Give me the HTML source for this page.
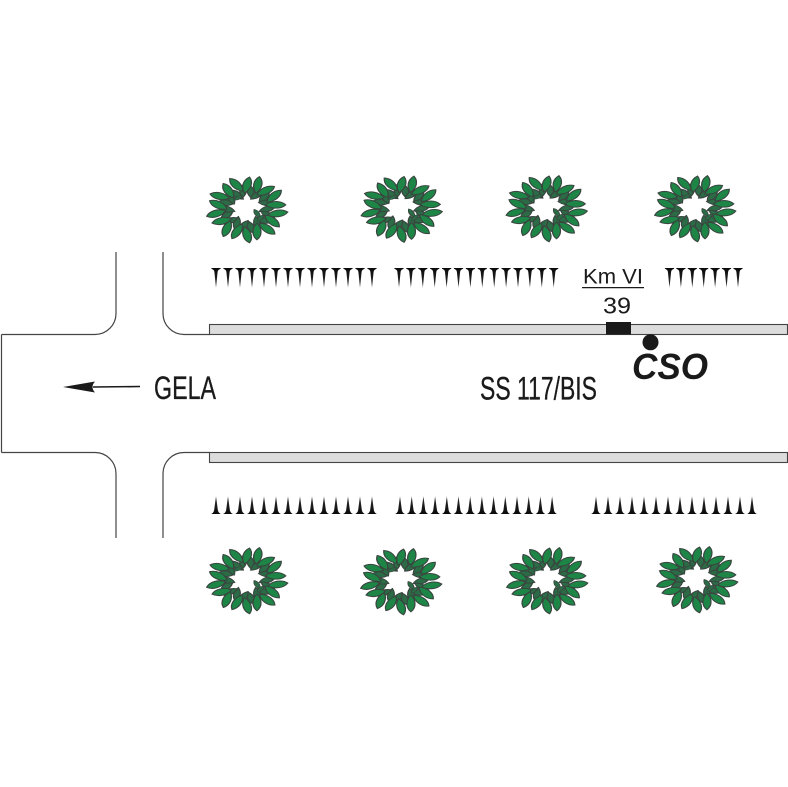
<!DOCTYPE html>
<html><head><meta charset="utf-8">
<style>
html,body{margin:0;padding:0;background:#fff;}
svg{display:block;}
text{font-family:"Liberation Sans",Arial,sans-serif;fill:#1a1a1a;}
</style></head>
<body>
<svg width="788" height="787" viewBox="0 0 788 787" xmlns="http://www.w3.org/2000/svg">
<defs>
  <linearGradient id="gt" x1="0" y1="0" x2="0" y2="1">
    <stop offset="0" stop-color="#0a0a0a"/>
    <stop offset="0.8" stop-color="#2a2a2a"/>
    <stop offset="1" stop-color="#888"/>
  </linearGradient>
  <linearGradient id="gb" x1="0" y1="1" x2="0" y2="0">
    <stop offset="0" stop-color="#0a0a0a"/>
    <stop offset="0.8" stop-color="#2a2a2a"/>
    <stop offset="1" stop-color="#888"/>
  </linearGradient>
  <path id="st" d="M-4.6,0 L4.6,0 L4.6,0.8 Q1.8,1.8 1.6,4 L0,20 L-1.6,4 Q-1.8,1.8 -4.6,0.8 Z" fill="url(#gt)"/>
  <path id="sb" d="M-4.8,0 L4.8,0 Q1.9,-1.2 1.7,-5 L0,-18 L-1.7,-5 Q-1.9,-1.2 -4.8,0 Z" fill="url(#gb)"/>
  <path id="lf" d="M0,-9 C4.8,-4.5 4.8,3.5 0,9 C-4.8,3.5 -4.8,-4.5 0,-9Z" fill="#1d8646" stroke="#3a4540" stroke-width="1.1"/>
  <path id="ld" d="M0,-7.5 C4,-3.5 4,2.5 0,7.5 C-4,2.5 -4,-3.5 0,-7.5Z" fill="#2b6b45" stroke="#3a4540" stroke-width="1.1"/>
  <g id="tree">
    <g transform="scale(1.12,0.92)">
      <use href="#ld" transform="rotate(10) translate(0,-19) rotate(-20)"/>
      <use href="#ld" transform="rotate(30) translate(0,-18) rotate(20)"/>
      <use href="#ld" transform="rotate(50) translate(0,-20) rotate(-15)"/>
      <use href="#ld" transform="rotate(70) translate(0,-19) rotate(25)"/>
      <use href="#ld" transform="rotate(90) translate(0,-18) rotate(-20)"/>
      <use href="#ld" transform="rotate(110) translate(0,-20) rotate(15)"/>
      <use href="#ld" transform="rotate(130) translate(0,-19) rotate(-25)"/>
      <use href="#ld" transform="rotate(150) translate(0,-18) rotate(20)"/>
      <use href="#ld" transform="rotate(170) translate(0,-20) rotate(-15)"/>
      <use href="#ld" transform="rotate(190) translate(0,-19) rotate(25)"/>
      <use href="#ld" transform="rotate(210) translate(0,-18) rotate(-20)"/>
      <use href="#ld" transform="rotate(230) translate(0,-20) rotate(15)"/>
      <use href="#ld" transform="rotate(250) translate(0,-19) rotate(-25)"/>
      <use href="#ld" transform="rotate(270) translate(0,-18) rotate(20)"/>
      <use href="#ld" transform="rotate(290) translate(0,-20) rotate(-15)"/>
      <use href="#ld" transform="rotate(310) translate(0,-19) rotate(25)"/>
      <use href="#ld" transform="rotate(330) translate(0,-18) rotate(-20)"/>
      <use href="#ld" transform="rotate(350) translate(0,-20) rotate(15)"/>
      <use href="#lf" transform="rotate(0) translate(0,-26) rotate(15)"/>
      <use href="#lf" transform="rotate(20) translate(0,-28) rotate(-10)"/>
      <use href="#lf" transform="rotate(40) translate(0,-26) rotate(20)"/>
      <use href="#lf" transform="rotate(60) translate(0,-28) rotate(-15)"/>
      <use href="#lf" transform="rotate(80) translate(0,-26) rotate(10)"/>
      <use href="#lf" transform="rotate(100) translate(0,-28) rotate(-20)"/>
      <use href="#lf" transform="rotate(120) translate(0,-26) rotate(15)"/>
      <use href="#lf" transform="rotate(140) translate(0,-28) rotate(-10)"/>
      <use href="#lf" transform="rotate(160) translate(0,-26) rotate(20)"/>
      <use href="#lf" transform="rotate(180) translate(0,-28) rotate(-15)"/>
      <use href="#lf" transform="rotate(200) translate(0,-26) rotate(10)"/>
      <use href="#lf" transform="rotate(220) translate(0,-28) rotate(-20)"/>
      <use href="#lf" transform="rotate(240) translate(0,-26) rotate(15)"/>
      <use href="#lf" transform="rotate(260) translate(0,-28) rotate(-10)"/>
      <use href="#lf" transform="rotate(280) translate(0,-26) rotate(20)"/>
      <use href="#lf" transform="rotate(300) translate(0,-28) rotate(-15)"/>
      <use href="#lf" transform="rotate(320) translate(0,-26) rotate(10)"/>
      <use href="#lf" transform="rotate(340) translate(0,-28) rotate(-20)"/>
      <use href="#ld" transform="translate(9,5) rotate(-30) scale(0.7)"/>
      <use href="#ld" transform="translate(12,10) rotate(40) scale(0.6)"/>
      <use href="#ld" transform="translate(-8,-12) rotate(60) scale(0.6)"/>
    </g>
  </g>
</defs>

<!-- road outline -->
<g fill="none" stroke="#444" stroke-width="1.2">
  <path d="M1.5,334.5 H95 A21,21 0 0 0 116,313.5 V252"/>
  <path d="M163,252 V313.5 A21,21 0 0 0 184,334.5 H210"/>
  <path d="M1.5,334.5 V452.5"/>
  <path d="M1.5,452.5 H95 A21,21 0 0 1 116,473.5 V538"/>
  <path d="M163,538 V473.5 A21,21 0 0 1 184,452.5 H210"/>
</g>

<!-- strips -->
<rect x="209.5" y="324.5" width="578" height="10" fill="#dcdcdc" stroke="#444" stroke-width="1.1"/>
<rect x="209.5" y="452.5" width="578" height="10" fill="#dcdcdc" stroke="#444" stroke-width="1.1"/>

<!-- km marker -->
<rect x="606" y="322" width="25" height="12.5" fill="#1a1a1a"/>
<circle cx="650.5" cy="342.3" r="8" fill="#1a1a1a"/>

<!-- arrow -->
<line x1="93" y1="387" x2="140" y2="386.5" stroke="#1a1a1a" stroke-width="1.6"/>
<path d="M63,387 L95,381.5 Q90,387 95,392.5 Z" fill="#1a1a1a"/>

<!-- texts -->
<text x="154" y="399" font-size="32" textLength="62" lengthAdjust="spacingAndGlyphs" stroke="#1a1a1a" stroke-width="0.3">GELA</text>
<text x="480" y="399.3" font-size="32" textLength="117" lengthAdjust="spacingAndGlyphs" stroke="#1a1a1a" stroke-width="0.3">SS 117/BIS</text>
<text x="583" y="283.3" font-size="21" textLength="60" lengthAdjust="spacingAndGlyphs">Km VI</text>
<line x1="582" y1="287.6" x2="644" y2="287.6" stroke="#1a1a1a" stroke-width="1.2"/>
<text x="603" y="313.3" font-size="23" textLength="28" lengthAdjust="spacingAndGlyphs">39</text>
<text x="632" y="379" font-size="36" font-weight="bold" font-style="italic" textLength="76" lengthAdjust="spacingAndGlyphs">CSO</text>

<!-- top grass -->
<g transform="translate(0,268)">
  <use href="#st" x="216"/><use href="#st" x="228"/><use href="#st" x="240"/><use href="#st" x="252"/>
  <use href="#st" x="264"/><use href="#st" x="276"/><use href="#st" x="288"/><use href="#st" x="300"/>
  <use href="#st" x="312"/><use href="#st" x="324"/><use href="#st" x="336"/><use href="#st" x="348"/>
  <use href="#st" x="360"/><use href="#st" x="372"/>
  <use href="#st" x="399"/><use href="#st" x="410.9"/><use href="#st" x="422.8"/><use href="#st" x="434.7"/>
  <use href="#st" x="446.6"/><use href="#st" x="458.5"/><use href="#st" x="470.4"/><use href="#st" x="482.3"/>
  <use href="#st" x="494.2"/><use href="#st" x="506.1"/><use href="#st" x="518"/><use href="#st" x="529.9"/>
  <use href="#st" x="541.8"/><use href="#st" x="553.7"/>
  <use href="#st" x="669.5"/><use href="#st" x="680.9"/><use href="#st" x="692.3"/><use href="#st" x="703.7"/>
  <use href="#st" x="715.1"/><use href="#st" x="726.5"/><use href="#st" x="738"/>
</g>

<!-- bottom grass -->
<g transform="translate(0,514)">
  <use href="#sb" x="216"/><use href="#sb" x="228"/><use href="#sb" x="240"/><use href="#sb" x="252"/>
  <use href="#sb" x="264"/><use href="#sb" x="276"/><use href="#sb" x="288"/><use href="#sb" x="300"/>
  <use href="#sb" x="312"/><use href="#sb" x="324"/><use href="#sb" x="336"/><use href="#sb" x="348"/>
  <use href="#sb" x="360"/><use href="#sb" x="372"/>
  <use href="#sb" x="400"/><use href="#sb" x="411.7"/><use href="#sb" x="423.4"/><use href="#sb" x="435.1"/>
  <use href="#sb" x="446.8"/><use href="#sb" x="458.5"/><use href="#sb" x="470.2"/><use href="#sb" x="481.9"/>
  <use href="#sb" x="493.6"/><use href="#sb" x="505.3"/><use href="#sb" x="517"/><use href="#sb" x="528.7"/>
  <use href="#sb" x="540.4"/><use href="#sb" x="552.1"/>
  <use href="#sb" x="596"/><use href="#sb" x="608"/><use href="#sb" x="620"/><use href="#sb" x="632"/>
  <use href="#sb" x="644"/><use href="#sb" x="656"/><use href="#sb" x="668"/><use href="#sb" x="680"/>
  <use href="#sb" x="692"/><use href="#sb" x="704"/><use href="#sb" x="716"/><use href="#sb" x="728"/>
  <use href="#sb" x="740"/><use href="#sb" x="752"/>
</g>

<!-- trees -->
<use href="#tree" transform="translate(247,209)"/>
<use href="#tree" transform="translate(401.5,208.5)"/>
<use href="#tree" transform="translate(546.5,208)"/>
<use href="#tree" transform="translate(695,208)"/>
<use href="#tree" transform="translate(247,580)"/>
<use href="#tree" transform="translate(401,581)"/>
<use href="#tree" transform="translate(547,580)"/>
<use href="#tree" transform="translate(697,579)"/>
</svg>
</body></html>
